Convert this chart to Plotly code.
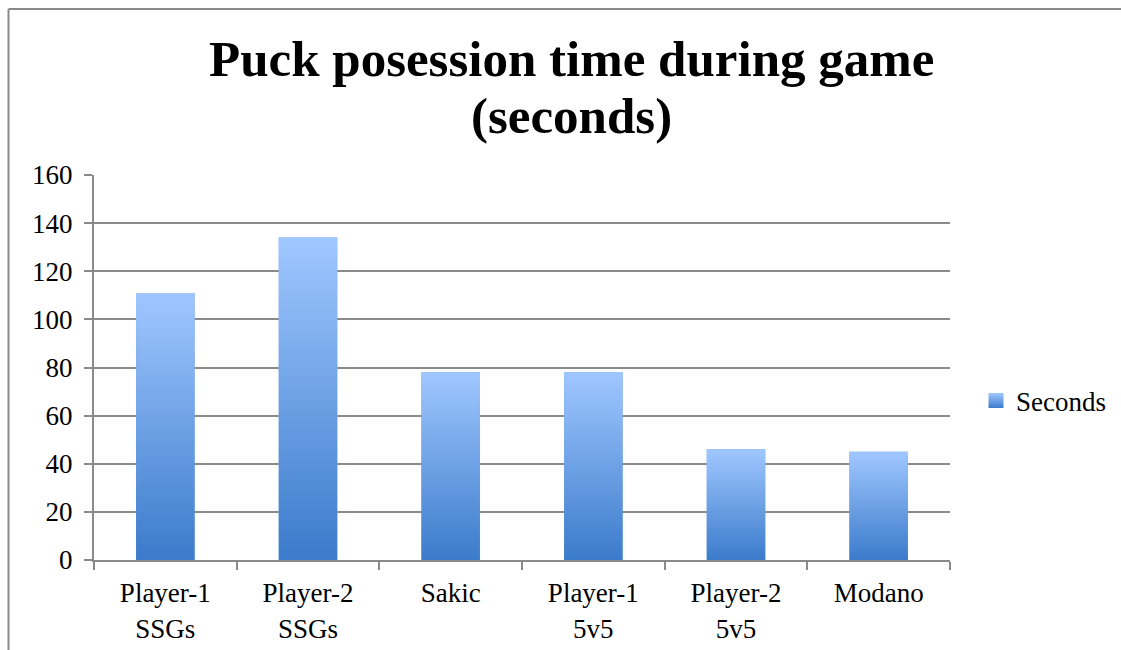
import plotly.graph_objects as go

categories = ["Player-1<br>SSGs", "Player-2<br>SSGs", "Sakic", "Player-1<br>5v5", "Player-2<br>5v5", "Modano"]
seconds = [111, 134, 78, 78, 46, 45]
series_name = "Seconds"
y_ticks = [0, 20, 40, 60, 80, 100, 120, 140, 160]
title_lines = ["Puck posession time during game", "(seconds)"]

W, H = 1121, 650
ML, MR, MT, MB = 94, 171, 175, 90
BAR_W = 0.41
TOP_C = "#a0c7ff"
BOT_C = "#3b7bcb"
FONT = "Liberation Serif"
GRID = "#8a8a8a"

fig = go.Figure()

# base bars through the category axis
fig.add_trace(go.Bar(x=categories, y=seconds, width=BAR_W, marker=dict(color="#6a9fe6", line=dict(width=0)),
                     showlegend=False, hoverinfo="skip"))

# gradient overlays on numeric twin axis
for i, v in enumerate(seconds):
    xs = [i - BAR_W / 2, i + BAR_W / 2, i + BAR_W / 2, i - BAR_W / 2, i - BAR_W / 2]
    ys = [0, 0, v, v, 0]
    fig.add_trace(go.Scatter(x=xs, y=ys, xaxis="x2", mode="lines", fill="toself",
                             line=dict(width=0, color="rgba(0,0,0,0)"),
                             fillgradient=dict(type="vertical", colorscale=[[0, BOT_C], [1, TOP_C]]),
                             showlegend=False, hovertemplate=f"{v}<extra></extra>"))

# legend entry
fig.add_trace(go.Scatter(x=[None], y=[None], mode="markers", name=series_name,
                         marker=dict(symbol="square", size=15, color=TOP_C,
                                     gradient=dict(type="vertical", color=BOT_C),
                                     line=dict(width=0))))

pw = W - ML - MR
ph = H - MT - MB
def px_x(p):
    return (p - ML) / pw
def px_y(p):
    return 1 - (p - MT) / ph

annotations = [
    dict(text=f"<b>{title_lines[0]}</b>", xref="paper", yref="paper", x=px_x(571), y=px_y(59),
         xanchor="center", yanchor="middle", showarrow=False, font=dict(family=FONT, size=51, color="black")),
    dict(text=f"<b>{title_lines[1]}</b>", xref="paper", yref="paper", x=px_x(571), y=px_y(116),
         xanchor="center", yanchor="middle", showarrow=False, font=dict(family=FONT, size=51, color="black")),
]

fig.update_layout(
    width=W, height=H,
    margin=dict(l=ML, r=MR, t=MT, b=MB, pad=0, autoexpand=False),
    paper_bgcolor="white", plot_bgcolor="white",
    font=dict(family=FONT, size=27, color="black"),
    xaxis=dict(type="category", range=[-0.5, 5.5], showgrid=False, showline=True, linecolor=GRID, linewidth=2,
               ticks="outside", tickson="boundaries", ticklen=8, tickcolor=GRID, tickwidth=2,
               ticklabelstandoff=8, automargin=False,
               tickfont=dict(family=FONT, size=27), fixedrange=True),
    xaxis2=dict(overlaying="x", range=[-0.5, 5.5], visible=False, fixedrange=True),
    yaxis=dict(range=[0, 160], tickvals=y_ticks, showgrid=True, gridcolor=GRID, gridwidth=2,
               showline=True, linecolor=GRID, linewidth=2, ticks="outside", ticklen=8,
               tickcolor=GRID, tickwidth=2, ticklabelstandoff=6, automargin=False,
               tickfont=dict(family=FONT, size=27), zeroline=False,
               fixedrange=True),
    legend=dict(x=px_x(976), y=px_y(401), xanchor="left", yanchor="middle",
                font=dict(family=FONT, size=27), bgcolor="rgba(0,0,0,0)", itemwidth=30),
    showlegend=True,
    annotations=annotations,
    shapes=[
        dict(type="line", xref="paper", yref="paper", x0=px_x(8.5), x1=px_x(1121), y0=px_y(9), y1=px_y(9),
             line=dict(color="#8a8a8a", width=2)),
        dict(type="line", xref="paper", yref="paper", x0=px_x(8.5), x1=px_x(8.5), y0=px_y(9), y1=px_y(650),
             line=dict(color="#8a8a8a", width=2)),
    ],
)

fig.write_html("out.html", config=dict(displayModeBar=False))
